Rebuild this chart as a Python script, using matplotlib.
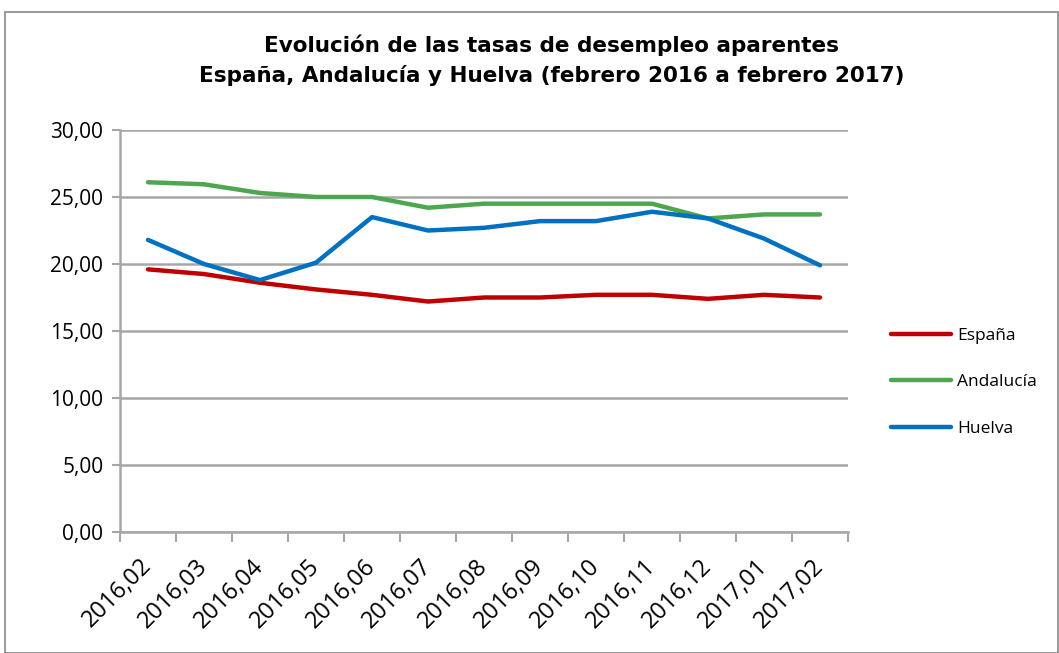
import matplotlib
matplotlib.use("Agg")
import matplotlib.pyplot as plt
from matplotlib.patches import Rectangle
from matplotlib.ticker import FuncFormatter, FixedLocator
import numpy as np

categories = ["2016,02", "2016,03", "2016,04", "2016,05", "2016,06", "2016,07",
              "2016,08", "2016,09", "2016,10", "2016,11", "2016,12", "2017,01", "2017,02"]
espana = [19.6, 19.25, 18.6, 18.1, 17.7, 17.2, 17.5, 17.5, 17.7, 17.7, 17.4, 17.7, 17.5]
andalucia = [26.1, 25.95, 25.3, 25.0, 25.0, 24.2, 24.5, 24.5, 24.5, 24.5, 23.4, 23.7, 23.7]
huelva = [21.8, 20.0, 18.8, 20.1, 23.5, 22.5, 22.7, 23.2, 23.2, 23.9, 23.4, 21.9, 19.9]
series_names = ["España", "Andalucía", "Huelva"]
colors = ["#C00000", "#4EA64E", "#0070C0"]
yticks = [0, 5, 10, 15, 20, 25, 30]
title_lines = ["Evolución de las tasas de desempleo aparentes",
               "España, Andalucía y Huelva (febrero 2016 a febrero 2017)"]

W, H = 1059, 653
fig = plt.figure(figsize=(W / 100, H / 100), dpi=100)
fig.patches.append(Rectangle((5 / W, 0), (W - 6) / W, (H - 12) / H, transform=fig.transFigure,
                             fill=False, edgecolor="#888888", linewidth=1.2))

ax = fig.add_axes([120 / W, 1 - 532 / H, (848 - 120) / W, (532 - 130) / H])
x = np.arange(len(categories))
for vals, name, c in zip([espana, andalucia, huelva], series_names, colors):
    ax.plot(x, vals, color=c, linewidth=3.2, label=name, solid_capstyle="round")

ax.set_xlim(-0.5, len(categories) - 0.5)
ax.set_ylim(0, 30)
ax.set_yticks(yticks)
ax.yaxis.set_major_formatter(FuncFormatter(lambda v, p: f"{v:.2f}".replace(".", ",")))
ax.grid(axis="y", color="#A6A6A6", linewidth=1.8)
ax.set_axisbelow(True)
for s in ["top", "right"]:
    ax.spines[s].set_visible(False)
ax.spines["left"].set_color("#A6A6A6")
ax.spines["left"].set_linewidth(1.8)
ax.spines["bottom"].set_color("#A6A6A6")
ax.spines["bottom"].set_linewidth(1.8)

ax.xaxis.set_major_locator(FixedLocator(np.arange(-0.5, len(categories), 1.0)))
ax.xaxis.set_major_formatter(FuncFormatter(lambda v, p: ""))
ax.xaxis.set_minor_locator(FixedLocator(x))
ax.set_xticklabels(categories, minor=True, rotation=45, ha="right", va="center",
                   rotation_mode="anchor", fontsize=17, family="Open Sans")
ax.tick_params(axis="x", which="major", length=7, width=1.5, color="#A6A6A6", direction="out")
ax.tick_params(axis="x", which="minor", length=0, pad=22)
ax.tick_params(axis="y", length=6, width=1.5, color="#A6A6A6", labelsize=15, pad=6)
for t in ax.get_yticklabels():
    t.set_family("Open Sans")

for i, line in enumerate(title_lines):
    fig.text(0.5 + 22 / W, 1 - (45 + 30 * i) / H, line, ha="center", va="center",
             fontsize=15.5, fontweight="bold", family="DejaVu Sans")

leg = fig.legend(loc="upper left", bbox_to_anchor=(875 / W, 1 - 312 / H), frameon=False,
                 handlelength=3.5, labelspacing=1.75, handletextpad=0.35,
                 prop={"family": "Open Sans", "size": 12.5})

fig.savefig("out.png", dpi=100)
